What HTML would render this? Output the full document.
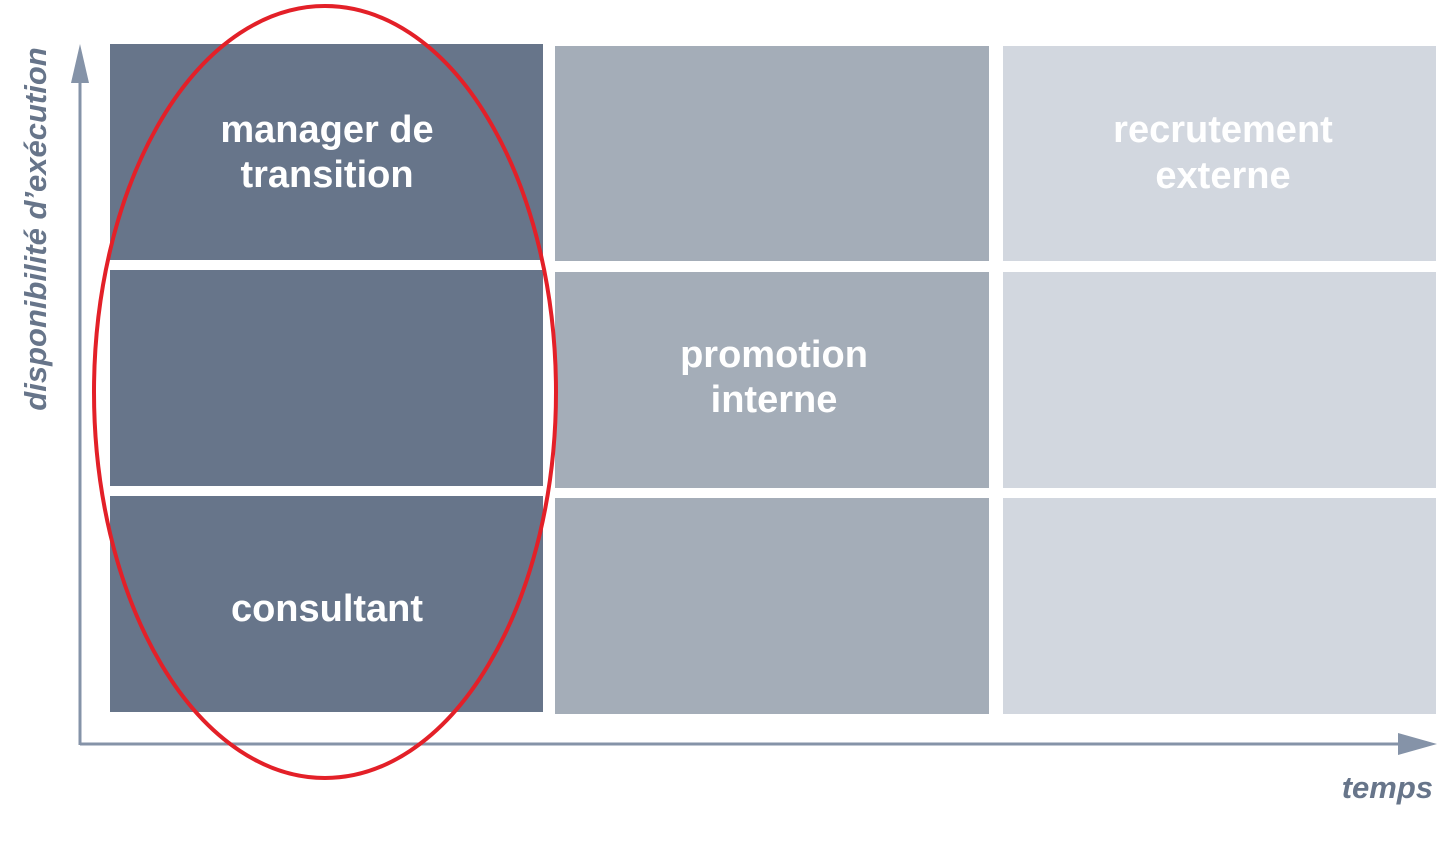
<!DOCTYPE html>
<html><head><meta charset="utf-8"><style>
body{margin:0;background:#fff;width:1440px;height:845px;overflow:hidden}
</style></head><body>
<svg width="1440" height="845" xmlns="http://www.w3.org/2000/svg" font-family="Liberation Sans, sans-serif">
<g fill="#67758a">
<rect x="110" y="44" width="433" height="216"/>
<rect x="110" y="270" width="433" height="216"/>
<rect x="110" y="496" width="433" height="216"/>
</g>
<g fill="#a4adb8">
<rect x="555" y="46" width="434" height="215"/>
<rect x="555" y="272" width="434" height="216"/>
<rect x="555" y="498" width="434" height="216"/>
</g>
<g fill="#d2d7df">
<rect x="1003" y="46" width="433" height="215"/>
<rect x="1003" y="272" width="433" height="216"/>
<rect x="1003" y="498" width="433" height="216"/>
</g>
<g fill="#fff" font-weight="bold" font-size="38" text-anchor="middle">
<text x="327" y="142">manager de</text>
<text x="327" y="187">transition</text>
<text x="327" y="621">consultant</text>
<text x="774" y="367">promotion</text>
<text x="774" y="412">interne</text>
<text x="1223" y="142">recrutement</text>
<text x="1223" y="188">externe</text>
</g>
<g stroke="#8593a8" stroke-width="3" fill="none">
<line x1="80" y1="80" x2="80" y2="745"/>
<line x1="80" y1="744" x2="1400" y2="744"/>
</g>
<polygon points="80,44 71,83 89,83" fill="#8593a8"/>
<polygon points="1437,744 1398,733 1398,755" fill="#8593a8"/>
<text x="1433" y="798" text-anchor="end" font-style="italic" font-weight="bold" font-size="31" fill="#67758a">temps</text>
<text transform="translate(46,229) rotate(-90)" text-anchor="middle" font-style="italic" font-weight="bold" font-size="31" fill="#67758a">disponibilité d’exécution</text>
<ellipse cx="325" cy="392" rx="231" ry="386" fill="none" stroke="#e32028" stroke-width="4"/>
</svg>
</body></html>
